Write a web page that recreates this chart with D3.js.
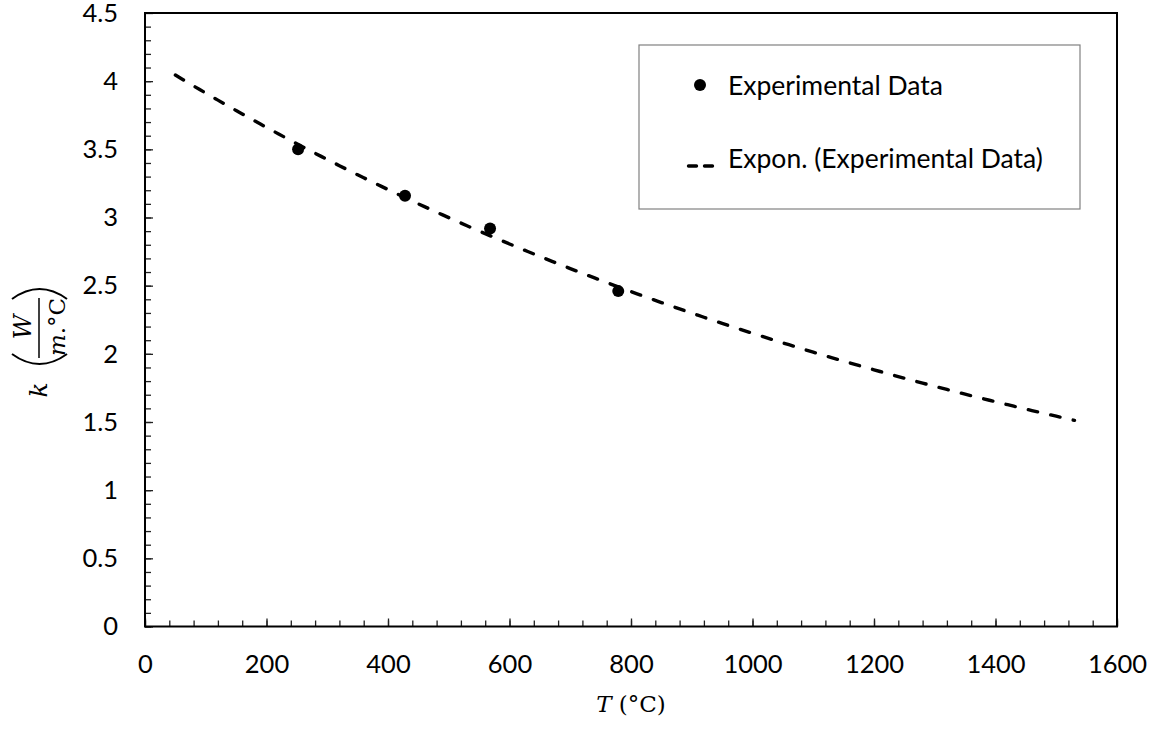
<!doctype html>
<html>
<head>
<script src="https://cdnjs.cloudflare.com/ajax/libs/d3/7.8.5/d3.min.js"></script>
<style>body{margin:0;background:#fff}</style>
</head>
<body>
<svg width="1150" height="731"></svg>
<script>
// measured points
var tempC = [252, 428, 568, 779];
var kValues = [3.50, 3.16, 2.92, 2.46];
var xTicks = [0, 200, 400, 600, 800, 1000, 1200, 1400, 1600];
var yTicks = [0, 0.5, 1, 1.5, 2, 2.5, 3, 3.5, 4, 4.5];
var trendRange = [50, 1530];
var legendLabels = ["Experimental Data", "Expon. (Experimental Data)"];

var svg = d3.select("svg");
var x = d3.scaleLinear().domain([0, 1600]).range([145, 1117]);
var y = d3.scaleLinear().domain([0, 4.5]).range([626.5, 13]);

var tickFont = "Lato, sans-serif";

// minor ticks
svg.append("g").attr("transform", "translate(0," + y(0) + ")")
    .call(d3.axisBottom(x).tickValues(d3.range(0, 1601, 40)).tickSize(-6).tickFormat(""))
    .call(g => g.select(".domain").remove());
svg.append("g").attr("transform", "translate(" + x(0) + ",0)")
    .call(d3.axisLeft(y).tickValues(d3.range(0, 45, 1).map(d => d / 10)).tickSize(-6).tickFormat(""))
    .call(g => g.select(".domain").remove());

// major ticks + labels
var xAxis = svg.append("g").attr("transform", "translate(0," + y(0) + ")")
    .call(d3.axisBottom(x).tickValues(xTicks).tickSize(-8).tickPadding(28).tickFormat(d3.format("d")));
var yAxis = svg.append("g").attr("transform", "translate(" + x(0) + ",0)")
    .call(d3.axisLeft(y).tickValues(yTicks).tickSize(-8).tickPadding(27).tickFormat(d => String(d)));

[xAxis, yAxis].forEach(function(g) {
    g.select(".domain").remove();
    g.selectAll("text").style("font-family", tickFont).style("font-size", "25.5px").attr("fill", "#000");
});
svg.selectAll(".tick line").attr("stroke", "#222").attr("stroke-width", 1.3);

// plot frame
svg.append("rect")
    .attr("x", x(0)).attr("y", y(4.5))
    .attr("width", x(1600) - x(0)).attr("height", y(0) - y(4.5))
    .attr("fill", "none").attr("stroke", "#000").attr("stroke-width", 2);

// exponential trendline, least squares on ln(k)
var lnK = kValues.map(Math.log);
var mt = d3.mean(tempC), ml = d3.mean(lnK);
var b = d3.sum(tempC, (t, i) => (t - mt) * (lnK[i] - ml)) / d3.sum(tempC, t => (t - mt) * (t - mt));
var a = Math.exp(ml - b * mt);
var trend = d3.range(trendRange[0], trendRange[1] + 1, 10).map(t => [t, a * Math.exp(b * t)]);

svg.append("path")
    .datum(trend)
    .attr("d", d3.line().x(d => x(d[0])).y(d => y(d[1])))
    .attr("fill", "none").attr("stroke", "#000").attr("stroke-width", 3.4)
    .attr("stroke-linecap", "round").attr("stroke-dasharray", "9.5,13.5");

svg.selectAll(".pt")
    .data(tempC)
    .enter().append("circle")
    .attr("cx", d => x(d))
    .attr("cy", (d, i) => y(kValues[i]))
    .attr("r", 6)
    .attr("fill", "#000");

// legend
var leg = svg.append("g");
leg.append("rect").attr("x", 639).attr("y", 45).attr("width", 441).attr("height", 164)
    .attr("fill", "#fff").attr("stroke", "#808080").attr("stroke-width", 1.2);
leg.append("circle").attr("cx", 700).attr("cy", 85).attr("r", 6).attr("fill", "#000");
leg.append("line").attr("x1", 688.5).attr("x2", 713.5).attr("y1", 166).attr("y2", 166)
    .attr("stroke", "#000").attr("stroke-width", 3.4).attr("stroke-linecap", "round")
    .attr("stroke-dasharray", "8,8");
leg.selectAll("text")
    .data(legendLabels)
    .enter().append("text")
    .attr("x", 728)
    .attr("y", (d, i) => i ? 168 : 95)
    .style("font-family", tickFont).style("font-size", "26.5px")
    .text(d => d);

// axis titles
var serif = "'DejaVu Serif', 'Liberation Serif', serif";
var xt = svg.append("text")
    .attr("x", (x(0) + x(1600)) / 2).attr("y", 712)
    .attr("text-anchor", "middle")
    .style("font-family", serif).style("font-size", "23px");
xt.append("tspan").style("font-style", "italic").text("T");
xt.append("tspan").text(" (°C)");

var yt = svg.append("g").attr("transform", "translate(39,328) rotate(-90)");
yt.append("text").attr("x", -62).attr("y", 8).attr("text-anchor", "middle")
    .style("font-family", serif).style("font-size", "25px").style("font-style", "italic").text("k");
yt.append("path").attr("d", "M-26,-27 Q-46,0.5 -26,28").attr("fill", "none").attr("stroke", "#000").attr("stroke-width", 2);
yt.append("path").attr("d", "M29,-27 Q49,0.5 29,28").attr("fill", "none").attr("stroke", "#000").attr("stroke-width", 2);
yt.append("line").attr("x1", -30).attr("x2", 30).attr("y1", 0).attr("y2", 0).attr("stroke", "#000").attr("stroke-width", 1.5);
yt.append("text").attr("x", 1).attr("y", -8).attr("text-anchor", "middle")
    .style("font-family", serif).style("font-size", "24px").style("font-style", "italic").text("W");
var den = yt.append("text").attr("x", 1).attr("y", 26).attr("text-anchor", "middle")
    .style("font-family", serif).style("font-size", "23px");
den.append("tspan").style("font-style", "italic").text("m");
den.append("tspan").text(".°C");
</script>
</body>
</html>
